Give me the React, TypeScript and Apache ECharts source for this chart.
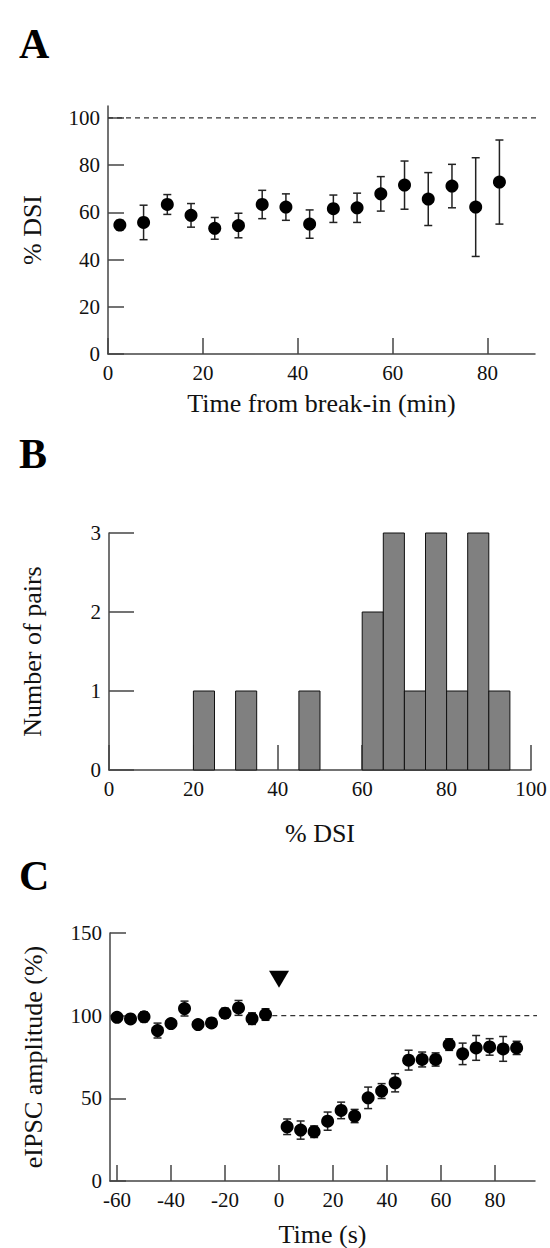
import React, { useEffect, useRef } from "react";
import * as echarts from "echarts";

// ---- Panel A: %DSI vs time from break-in ----
const A_TIME = [2.5, 7.5, 12.5, 17.5, 22.5, 27.5, 32.5, 37.5, 42.5, 47.5, 52.5, 57.5, 62.5, 67.5, 72.5, 77.5, 82.5];
const A_DSI = [54.6, 55.7, 63.3, 58.7, 53.2, 54.4, 63.3, 62.2, 55, 61.5, 61.9, 67.8, 71.5, 65.6, 71.1, 62.2, 72.8];
const A_ERR = [2, 7.3, 4.2, 5, 4.6, 5.2, 6, 5.6, 6, 5.8, 6.2, 7.3, 10.2, 11.2, 9.2, 20.9, 17.8];
const A_X_TICKS = [0, 20, 40, 60, 80];
const A_Y_TICKS = [0, 20, 40, 60, 80, 100];

// ---- Panel B: histogram of %DSI ----
const B_BIN_START = [20, 30, 45, 60, 65, 70, 75, 80, 85, 90];
const B_BIN_END = [25, 35, 50, 65, 70, 75, 80, 85, 90, 95];
const B_COUNT = [1, 1, 1, 2, 3, 1, 3, 1, 3, 1];

// ---- Panel C: eIPSC amplitude vs time ----
const C_TIME = [-60, -55, -50, -45, -40, -35, -30, -25, -20, -15, -10, -5,
  3, 8, 13, 18, 23, 28, 33, 38, 43, 48, 53, 58, 63, 68, 73, 78, 83, 88];
const C_AMP = [99, 98, 99.3, 91, 95.2, 104.3, 94.6, 95.6, 101.5, 104.7, 98.2, 100.7,
  32.8, 30.8, 29.8, 36.2, 42.7, 39.3, 50.3, 54.4, 59.4, 73.1, 73.5, 73.5, 82.5, 76.9, 80.5, 81.1, 79.9, 80.5];
const C_ERR = [2, 2, 3, 4.5, 2, 4.5, 2, 2, 3, 4.5, 3.5, 3.5,
  4.7, 5.5, 3.5, 5.5, 5, 4, 6.5, 4.5, 5.5, 6, 4.5, 4, 3.5, 6.5, 7.5, 5, 7.5, 4];
const C_X_TICKS = [-60, -40, -20, 0, 20, 40, 60, 80];
const C_STIM = [[0, 122]];

const FONT = "'Liberation Serif', 'Times New Roman', serif";
const AXIS_COLOR = "#444";
const TICK_FS = 21;
const NAME_FS = 26;

function errorBarRender(params: any, api: any) {
  const x = api.value(0);
  const y = api.value(1);
  const e = api.value(2);
  const top = api.coord([x, y + e]);
  const bot = api.coord([x, y - e]);
  const hw = 4;
  const style = { stroke: "#222", lineWidth: 1.5 };
  return {
    type: "group",
    children: [
      { type: "line", shape: { x1: top[0], y1: top[1], x2: bot[0], y2: bot[1] }, style },
      { type: "line", shape: { x1: top[0] - hw, y1: top[1], x2: top[0] + hw, y2: top[1] }, style },
      { type: "line", shape: { x1: bot[0] - hw, y1: bot[1], x2: bot[0] + hw, y2: bot[1] }, style },
    ],
  };
}

function histRender(params: any, api: any) {
  const p0 = api.coord([api.value(0), api.value(2)]);
  const p1 = api.coord([api.value(1), 0]);
  return {
    type: "rect",
    shape: { x: p0[0], y: p0[1], width: p1[0] - p0[0], height: p1[1] - p0[1] },
    style: { fill: "#808080", stroke: "#111", lineWidth: 1 },
  };
}

function axisBase(tickLen: number) {
  return {
    axisLine: { show: true, onZero: false, lineStyle: { color: AXIS_COLOR, width: 1.5 } },
    axisTick: { show: true, inside: true, length: tickLen, lineStyle: { color: AXIS_COLOR, width: 1.5 } },
    axisLabel: { color: "#111", fontFamily: FONT, fontSize: TICK_FS, margin: 8 },
    splitLine: { show: false },
    nameTextStyle: { color: "#111", fontFamily: FONT, fontSize: NAME_FS },
    nameLocation: "middle",
  };
}

export default function App() {
  const ref = useRef<HTMLDivElement>(null);
  useEffect(() => {
    if (!ref.current) return;
    const chart = echarts.init(ref.current, undefined, { renderer: "svg" });

    const aData = A_TIME.map((t, i) => [t, A_DSI[i], A_ERR[i]]);
    const bData = B_COUNT.map((c, i) => [B_BIN_START[i], B_BIN_END[i], c]);
    const cData = C_TIME.map((t, i) => [t, C_AMP[i], C_ERR[i]]);

    const dot = { color: "#000", opacity: 1 };

    const option: any = {
      animation: false,
      backgroundColor: "#fff",
      title: [
        { text: "A", left: 14, top: 18, textStyle: { fontFamily: FONT, fontSize: 42, fontWeight: "bold", color: "#000" } },
        { text: "B", left: 14, top: 428, textStyle: { fontFamily: FONT, fontSize: 42, fontWeight: "bold", color: "#000" } },
        { text: "C", left: 14, top: 850, textStyle: { fontFamily: FONT, fontSize: 42, fontWeight: "bold", color: "#000" } },
      ],
      grid: [
        { left: 108, top: 106, width: 427, height: 248 },
        { left: 109, top: 533, width: 422, height: 237 },
        { left: 110, top: 933, width: 425, height: 248 },
      ],
      xAxis: [
        {
          ...axisBase(16), gridIndex: 0, type: "value", min: 0, max: 90,
          name: "Time from break-in (min)", nameGap: 36,
          axisTick: { ...axisBase(16).axisTick, customValues: A_X_TICKS },
          axisLabel: { ...axisBase(16).axisLabel, customValues: A_X_TICKS },
        },
        {
          ...axisBase(25), gridIndex: 1, type: "value", min: 0, max: 100, interval: 20,
          name: "% DSI", nameGap: 50,
        },
        {
          ...axisBase(16), gridIndex: 2, type: "value", min: -62.6, max: 94.8,
          name: "Time (s)", nameGap: 40,
          axisTick: { ...axisBase(16).axisTick, customValues: C_X_TICKS },
          axisLabel: { ...axisBase(16).axisLabel, customValues: C_X_TICKS },
        },
      ],
      yAxis: [
        {
          ...axisBase(16), gridIndex: 0, type: "value", min: 0, max: 105,
          name: "% DSI", nameGap: 63,
          axisTick: { ...axisBase(16).axisTick, customValues: A_Y_TICKS },
          axisLabel: { ...axisBase(16).axisLabel, customValues: A_Y_TICKS },
        },
        {
          ...axisBase(25), gridIndex: 1, type: "value", min: 0, max: 3, interval: 1,
          name: "Number of pairs", nameGap: 64,
        },
        {
          ...axisBase(16), gridIndex: 2, type: "value", min: 0, max: 150, interval: 50,
          name: "eIPSC amplitude (%)", nameGap: 64,
        },
      ],
      series: [
        {
          type: "line", xAxisIndex: 0, yAxisIndex: 0, data: [[0, 100], [92, 100]],
          symbol: "none", clip: false, silent: true,
          lineStyle: { color: "#333", width: 1.2, type: [5, 4] },
        },
        {
          type: "custom", xAxisIndex: 0, yAxisIndex: 0, data: aData,
          encode: { x: 0, y: [1, 2] }, renderItem: errorBarRender, clip: false,
        },
        {
          type: "scatter", xAxisIndex: 0, yAxisIndex: 0, data: aData.map((d) => [d[0], d[1]]),
          symbol: "circle", symbolSize: 13, itemStyle: dot, z: 5,
        },
        {
          type: "custom", xAxisIndex: 1, yAxisIndex: 1, data: bData,
          encode: { x: [0, 1], y: 2 }, renderItem: histRender, z: 3,
        },
        {
          type: "line", xAxisIndex: 2, yAxisIndex: 2, data: [[-2.5, 100], [98, 100]],
          symbol: "none", clip: false, silent: true,
          lineStyle: { color: "#333", width: 1.2, type: [5, 4] },
        },
        {
          type: "custom", xAxisIndex: 2, yAxisIndex: 2, data: cData,
          encode: { x: 0, y: [1, 2] }, renderItem: errorBarRender, clip: false,
        },
        {
          type: "scatter", xAxisIndex: 2, yAxisIndex: 2, data: cData.map((d) => [d[0], d[1]]),
          symbol: "circle", symbolSize: 13, itemStyle: dot, z: 5,
        },
        {
          type: "scatter", xAxisIndex: 2, yAxisIndex: 2, data: C_STIM,
          symbol: "triangle", symbolRotate: 180, symbolSize: [20, 17], itemStyle: dot, z: 5,
        },
      ],
    };
    chart.setOption(option);
    return () => chart.dispose();
  }, []);

  return (
    <div
      ref={ref}
      style={{ position: "absolute", left: 0, top: 0, width: 550, height: 1248, background: "#fff" }}
    />
  );
}
